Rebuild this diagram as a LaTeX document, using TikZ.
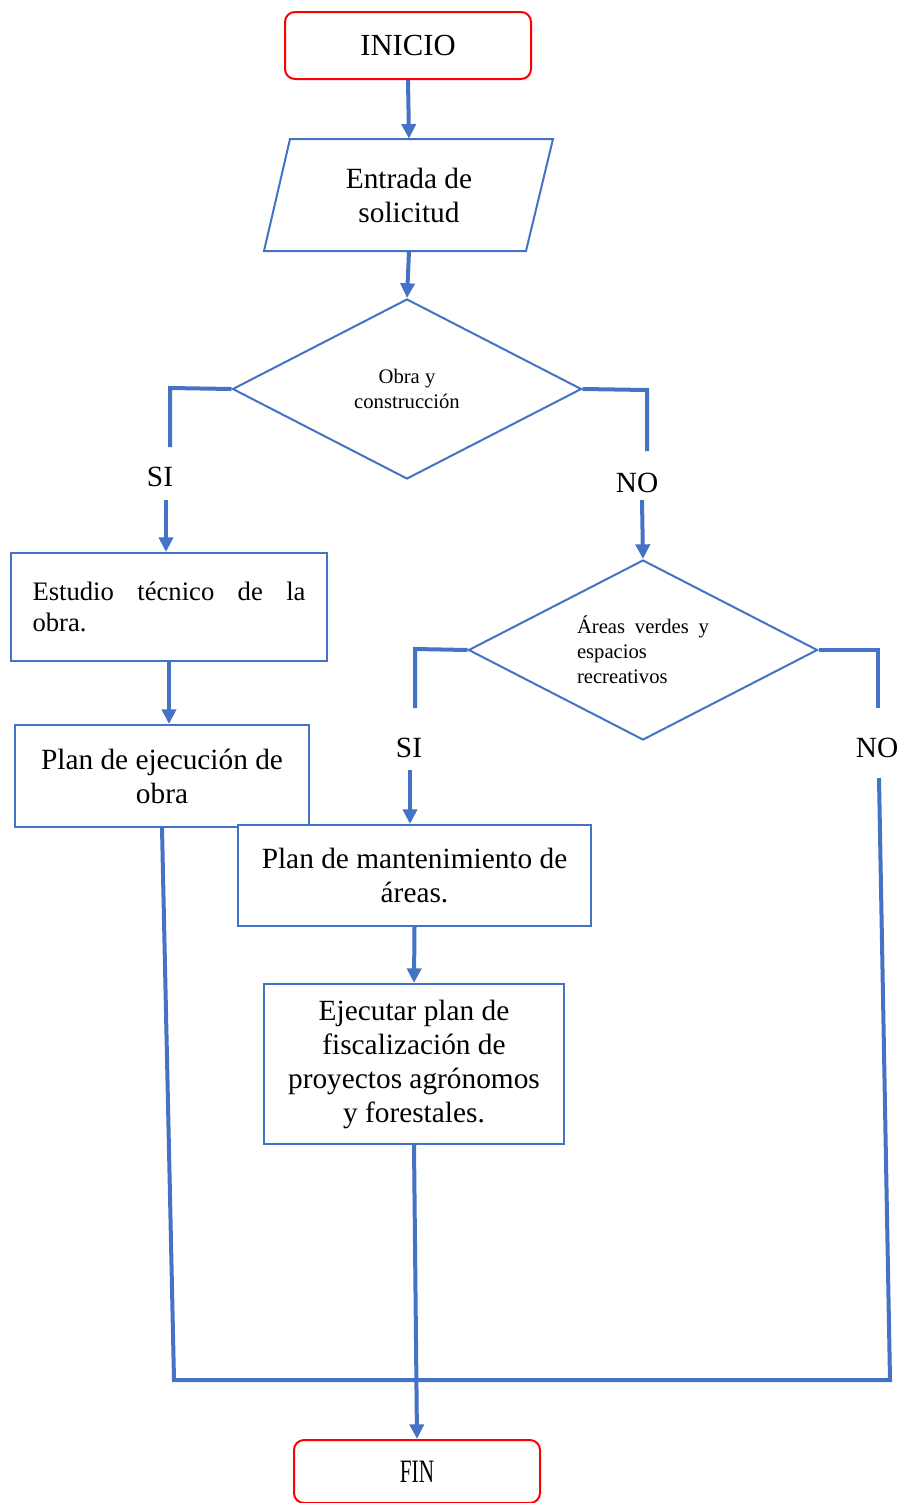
\documentclass[tikz,border=0pt]{standalone}
\usepackage{fontspec}
\setmainfont{Liberation Serif}
\usepackage{graphicx}
\usetikzlibrary{arrows.meta,shapes.geometric}
\definecolor{flowblue}{HTML}{4472C4}
\definecolor{flowred}{HTML}{FF0000}

\begin{document}
\begin{tikzpicture}[x=0.75pt,y=-0.75pt,
  box/.style={draw=flowblue,line width=1.5pt,fill=white,inner sep=0pt,align=center,
              font=\fontsize{22}{25.5}\selectfont},
  term/.style={draw=flowred,line width=1.5pt,rounded corners=7.5pt,fill=white,
               inner sep=0pt,align=center,minimum width=184.5pt},
  decision/.style={diamond,aspect=2,draw=flowblue,line width=1.5pt,fill=white,inner sep=0pt,
                   minimum width=261.75pt,minimum height=135pt,align=center,
                   font=\fontsize{15.5}{18.6}\selectfont},
  link/.style={draw=flowblue,line width=3pt},
  flow/.style={link,-{Triangle[length=11pt,width=10.5pt]}},
  answer/.style={inner sep=0pt,font=\fontsize{22}{25}\selectfont}
]
\useasboundingbox (0,0) rectangle (907,1503);

% terminals
\node[term,minimum height=50.25pt,font=\fontsize{23}{26}\selectfont] (inicio) at (408,45.5) {INICIO};
\node[term,minimum height=47.25pt] (fin) at (417,1471.5)
  {\scalebox{0.65}[1]{\fontsize{24.5}{26}\selectfont FIN}};

% input
\node[inner sep=0pt,minimum width=200pt,minimum height=84pt,align=center,
      font=\fontsize{22}{25.5}\selectfont] (entrada) at (409,195) {Entrada de\\solicitud};
\draw[draw=flowblue,line width=1.5pt] (290,139) -- (553,139) -- (526,251) -- (264,251) -- cycle;

% decisions
\node[decision] (d1) at (407,389) {Obra y\\construcción};
\node[decision,text width=99pt,align=left] (d2) at (643,650)
  {\hbox to 99pt{Áreas\hfill verdes\hfill y}\\espacios\\recreativos};

% process boxes
\node[box,minimum width=237pt,minimum height=81pt,text width=204.75pt,align=left,
      font=\fontsize{20}{23}\selectfont] (estudio) at (169,607)
  {\hbox to 204.75pt{Estudio\hfill técnico\hfill de\hfill la}\\obra.};
\node[box,minimum width=220.5pt,minimum height=76.5pt] (ejec) at (162,776)
  {Plan de ejecución de\\obra};
\node[box,minimum width=264.75pt,minimum height=75.75pt] (mant) at (414.5,875.5)
  {Plan de mantenimiento de\\áreas.};
\node[box,minimum width=225pt,minimum height=120pt] (ejecutar) at (414,1064)
  {Ejecutar plan de\\fiscalización de\\proyectos agrónomos\\y forestales.};

% branch labels
\node[answer] (si1) at (160,477) {SI};
\node[answer] (no1) at (637,483) {NO};
\node[answer] (si2) at (409,748) {SI};
\node[answer] (no2) at (877,748) {NO};

% bends and loose ends of the connectors
\coordinate (a1) at (170,388);
\coordinate (a2) at (170,447);
\coordinate (a3) at (166,500);
\coordinate (b1) at (647,390);
\coordinate (b2) at (647,451);
\coordinate (b3) at (642,500);
\coordinate (c1) at (415,649);
\coordinate (c2) at (415,708);
\coordinate (c3) at (410,770);
\coordinate (e1) at (878,650);
\coordinate (e2) at (878,708);
\coordinate (e3) at (879,778);
\coordinate (j1) at (174,1380);
\coordinate (j2) at (890,1380);

% connectors
\draw[flow] (inicio.south) -- (entrada.north);
\draw[flow] (entrada.south) -- (d1.north);
\draw[link] (d1.west) -- (a1) -- (a2);
\draw[flow] (a3) -- (a3 |- estudio.north);
\draw[link] (d1.east) -- (b1) -- (b2);
\draw[flow] (b3) -- (d2.north);
\draw[flow] (estudio.south) -- (estudio.south |- ejec.north);
\draw[link] (d2.west) -- (c1) -- (c2);
\draw[flow] (c3) -- (c3 |- mant.north);
\draw[link] (d2.east) -- (e1) -- (e2);
\draw[flow] (mant.south) -- (ejecutar.north);
\draw[link] (ejec.south) -- (j1) -- (j2) -- (e3);
\draw[flow] (ejecutar.south) -- (fin.north);
\end{tikzpicture}
\end{document}
